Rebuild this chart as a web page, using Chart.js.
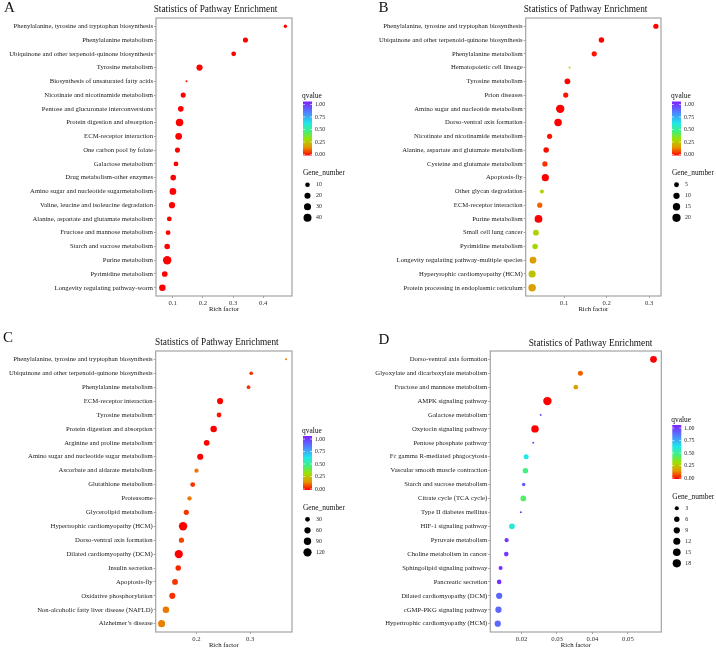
<!DOCTYPE html>
<html>
<head>
<meta charset="utf-8">
<script src="https://cdn.jsdelivr.net/npm/chart.js@4.4.1/dist/chart.umd.min.js"></script>
<style>
  html, body { margin: 0; padding: 0; background: #fff; }
  #wrap { position: relative; width: 716px; height: 650px; overflow: hidden; background: #fff; }
  canvas { position: absolute; }
</style>
</head>
<body>
<div id="wrap">
  <canvas id="panelA" width="358" height="325" style="left:0;top:0"></canvas>
  <canvas id="panelB" width="358" height="325" style="left:358px;top:0"></canvas>
  <canvas id="panelC" width="358" height="325" style="left:0;top:325px"></canvas>
  <canvas id="panelD" width="358" height="325" style="left:358px;top:325px"></canvas>
</div>
<script>
// ---- data (top row first) ----
const pathwaysA = ['Phenylalanine, tyrosine and tryptophan biosynthesis', 'Phenylalanine metabolism',
  'Ubiquinone and other terpenoid-quinone biosynthesis', 'Tyrosine metabolism', 'Biosynthesis of unsaturated fatty acids',
  'Nicotinate and nicotinamide metabolism', 'Pentose and glucuronate interconversions', 'Protein digestion and absorption',
  'ECM-receptor interaction', 'One carbon pool by folate', 'Galactose metabolism', 'Drug metabolism-other enzymes',
  'Amino sugar and nucleotide sugarmetabolism', 'Valine, leucine and isoleucine degradation',
  'Alanine, aspartate and glutamate metabolism', 'Fructose and mannose metabolism', 'Starch and sucrose metabolism',
  'Purine metabolism', 'Pyrimidine metabolism', 'Longevity regulating pathway-worm'];
const richA = [0.473, 0.341, 0.302, 0.189, 0.146, 0.135, 0.127, 0.123, 0.120, 0.116,
  0.111, 0.102, 0.101, 0.098, 0.089, 0.085, 0.082, 0.082, 0.074, 0.066];
const genesA = [5, 13, 11, 21, 3, 13, 17, 34, 26, 13, 11, 16, 26, 21, 11, 11, 16, 45, 17, 24];
const qvalA = [0, 0, 0, 0, 0.01, 0, 0, 0, 0, 0, 0, 0, 0, 0, 0, 0, 0, 0, 0, 0];
const xTicksA = [0.1, 0.2, 0.3, 0.4];
const sizeBreaksA = [10, 20, 30, 40];

const pathwaysB = ['Phenylalanine, tyrosine and tryptophan biosynthesis', 'Ubiquinone and other terpenoid-quinone biosynthesis',
  'Phenylalanine metabolism', 'Hematopoietic cell lineage', 'Tyrosine metabolism', 'Prion diseases',
  'Amino sugar and nucleotide metabolism', 'Dorso-ventral axis formation', 'Nicotinate and nicotinamide metabolism',
  'Alanine, aspartate and glutamate metabolism', 'Cysteine and glutamate metabolism', 'Apoptosis-fly',
  'Other glycan degradation', 'ECM-receptor interaction', 'Purine metabolism', 'Small cell lung cancer',
  'Pyrimidine metabolism', 'Longevity regulating pathway-multiple species', 'Hyperyrophic cardiomyopathy (HCM)',
  'Protein processing in endoplasmic reticulum'];
const richB = [0.316, 0.188, 0.171, 0.113, 0.108, 0.104, 0.091, 0.086, 0.066, 0.058,
  0.055, 0.056, 0.048, 0.043, 0.040, 0.034, 0.032, 0.027, 0.025, 0.025];
const genesB = [6, 7, 6, 1, 8, 6, 21, 16, 6, 7, 6, 14, 3, 6, 17, 8, 7, 12, 14, 16];
const qvalB = [0, 0, 0.02, 0.3, 0, 0.02, 0, 0, 0.02, 0.01, 0.05, 0, 0.28, 0.1, 0, 0.27, 0.28, 0.17, 0.24, 0.17];
const xTicksB = [0.1, 0.2, 0.3];
const sizeBreaksB = [5, 10, 15, 20];

const pathwaysC = ['Phenylalanine, tyrosine and tryptophan biosynthesis', 'Ubiquinone and other terpenoid-quinone biosynthesis',
  'Phenylalanine metabolism', 'ECM-receptor interaction', 'Tyrosine metabolism', 'Protein digestion and absorption',
  'Arginine and proline metabolism', 'Amino sugar and nucleotide sugar metabolism', 'Ascorbate and aldarate metabolism',
  'Glutathione metabolism', 'Proteasome', 'Glycerolipid metabolism', 'Hypertrophic cardiomyopathy (HCM)',
  'Dorso-ventral axis formation', 'Dilated cardiomyopathy (DCM)', 'Insulin secretion', 'Apoptosis-fly',
  'Oxidative phosphorylation', 'Non-alcoholic fatty liver disease (NAFLD)', 'Alzheimer\u2019s disease'];
const richC = [0.367, 0.302, 0.297, 0.244, 0.242, 0.232, 0.219, 0.207, 0.200, 0.193,
  0.187, 0.181, 0.175, 0.172, 0.167, 0.166, 0.160, 0.155, 0.143, 0.135];
const genesC = [8, 16, 16, 57, 31, 66, 48, 57, 23, 31, 23, 37, 125, 37, 120, 44, 48, 57, 66, 82];
const qvalC = [0.12, 0.05, 0.05, 0, 0.02, 0, 0, 0, 0.12, 0.05, 0.12, 0.05, 0, 0.07, 0, 0.04, 0.05, 0.05, 0.12, 0.13];
const xTicksC = [0.2, 0.3];
const sizeBreaksC = [30, 60, 90, 120];

const pathwaysD = ['Dorso-ventral axis formation', 'Glyoxylate and dicarboxylate metabolism', 'Fructose and mannose metabolism',
  'AMPK signaling pathway', 'Galactose metabolism', 'Oxytocin signaling pathway', 'Pentose phosphate pathway',
  'Fc gamma R-mediated phagocytosis', 'Vascular smooth muscle contraction', 'Starch and sucrose metabolism',
  'Citrate cycle (TCA cycle)', 'Type II diabetes mellitus', 'HIF-1 signaling pathway', 'Pyruvate metabolism',
  'Choline metabolism in cancer', 'Sphingolipid signaling pathway', 'Pancreatic secretion',
  'Dilated cardiomyopathy (DCM)', 'cGMP-PKG signaling pathway', 'Hypertrophic cardiomyopathy (HCM)'];
const richD = [0.0572, 0.0366, 0.0353, 0.0273, 0.0254, 0.0238, 0.0233, 0.0213, 0.0211, 0.0206,
  0.0205, 0.0198, 0.0173, 0.0158, 0.0157, 0.0141, 0.0137, 0.0137, 0.0135, 0.0133];
const genesD = [11, 5, 4, 19, 1, 14, 1, 5, 6, 2, 7, 1, 7, 3, 4, 3, 4, 9, 9, 9];
const qvalD = [0, 0.1, 0.17, 0, 0.88, 0, 0.9, 0.6, 0.45, 0.88, 0.42, 0.95, 0.58, 0.95, 0.95, 0.97, 0.97, 0.85, 0.85, 0.85];
const xTicksD = [0.02, 0.03, 0.04, 0.05];
const sizeBreaksD = [3, 6, 9, 12, 15, 18];

const qTicks = [0, 0.25, 0.5, 0.75, 1];

// ---- styling ----
const SERIF = '"Liberation Serif", "Times New Roman", serif';
Chart.defaults.font.family = SERIF;

// rainbow-ish qvalue gradient, red (0) -> purple (1)
const qStops = [[0, '#ff0000'], [0.15, '#e69500'], [0.3, '#a0e000'], [0.45, '#40f080'],
  [0.6, '#20e8e8'], [0.8, '#5080ff'], [1, '#8020ff']];

function hexRgb(h) {
  return [parseInt(h.slice(1, 3), 16), parseInt(h.slice(3, 5), 16), parseInt(h.slice(5, 7), 16)];
}

function qColor(q) {
  for (let i = 1; i < qStops.length; i++) {
    if (q <= qStops[i][0]) {
      const [s0, c0] = qStops[i - 1], [s1, c1] = qStops[i];
      const t = (q - s0) / (s1 - s0);
      const a = hexRgb(c0), b = hexRgb(c1);
      return `rgb(${a.map((v, k) => Math.round(v + (b[k] - v) * t)).join(',')})`;
    }
  }
  return qStops[qStops.length - 1][1];
}

// panel title, letter, border box and the two legends
const decoPlugin = {
  id: 'deco',
  afterDraw(chart, args, o) {
    const { ctx, chartArea: a } = chart;
    ctx.save();
    ctx.strokeStyle = '#a3a3a3';
    ctx.lineWidth = 1.2;
    ctx.strokeRect(a.left, a.top, a.right - a.left, a.bottom - a.top);

    ctx.fillStyle = '#111';
    ctx.textAlign = 'left';
    ctx.textBaseline = 'middle';
    ctx.font = '9.3px ' + SERIF;
    ctx.fillText('Statistics of Pathway Enrichment', o.titleX, o.titleY);
    ctx.font = '15px ' + SERIF;
    ctx.fillText(o.letter, o.letterX, o.letterY);

    // legends, stacked and centred on the panel
    const L = a.right + 11;
    const h = 96 + 11 * (o.breaks.length - 1);
    const T = (a.top + a.bottom) / 2 - h / 2;
    ctx.font = '7.4px ' + SERIF;
    ctx.fillStyle = '#111';
    ctx.fillText('qvalue', L - 1, T + 3.7);

    const barTop = T + 9, barH = 54;
    const grad = ctx.createLinearGradient(0, barTop + barH, 0, barTop);
    qStops.forEach(([s, c]) => grad.addColorStop(s, c));
    ctx.fillStyle = grad;
    ctx.fillRect(L, barTop, 9, barH);

    ctx.font = '5.8px ' + SERIF;
    qTicks.forEach(q => {
      const y = barTop + barH - 1 - q * (barH - 4);
      ctx.strokeStyle = '#fff';
      ctx.lineWidth = 0.6;
      ctx.beginPath();
      ctx.moveTo(L, y); ctx.lineTo(L + 2, y);
      ctx.moveTo(L + 7, y); ctx.lineTo(L + 9, y);
      ctx.stroke();
      ctx.fillStyle = '#222';
      ctx.fillText(q.toFixed(2), L + 12, y);
    });

    ctx.font = '7.4px ' + SERIF;
    ctx.fillStyle = '#111';
    ctx.fillText('Gene_number', L, T + 81);
    ctx.font = '5.8px ' + SERIF;
    o.breaks.forEach((b, i) => {
      const y = T + 92.3 + 11 * i;
      ctx.fillStyle = '#000';
      ctx.beginPath();
      ctx.arc(L + 4.5, y, o.size(b), 0, Math.PI * 2);
      ctx.fill();
      ctx.fillStyle = '#222';
      ctx.fillText(String(b), L + 13, y);
    });
    ctx.restore();
  }
};

function makePanel(id, names, rich, genes, qvals, xTicks, breaks, p) {
  const canvas = document.getElementById(id);
  const W = canvas.width, H = canvas.height;
  const gMin = Math.min(...genes), gMax = Math.max(...genes);
  // area-style size scale like ggplot's scale_size
  const size = v => 1.0 + 3.2 * Math.sqrt(Math.max(0, v - gMin) / (gMax - gMin));
  const tickFont = { size: 6.7, family: SERIF };

  new Chart(canvas, {
    type: 'scatter',
    data: {
      datasets: [{
        data: rich.map((x, i) => ({ x, y: i })),
        pointRadius: c => size(genes[c.dataIndex]),
        pointHoverRadius: c => size(genes[c.dataIndex]),
        pointBackgroundColor: c => qColor(qvals[c.dataIndex]),
        pointBorderWidth: 0,
        clip: false
      }]
    },
    options: {
      responsive: false,
      animation: false,
      devicePixelRatio: 1,
      events: [],
      layout: { padding: { left: 0, top: p.top, right: W - p.right, bottom: 0 } },
      plugins: {
        legend: { display: false },
        tooltip: { enabled: false },
        deco: { letter: p.letter, letterX: p.letterX, letterY: p.letterY,
          titleX: p.titleX, titleY: p.titleY, breaks, size }
      },
      scales: {
        x: {
          type: 'linear',
          min: p.xMin,
          max: p.xMax,
          afterFit: s => { s.height = H - p.bottom; },
          afterBuildTicks: s => { s.ticks = xTicks.map(v => ({ value: v })); },
          ticks: { callback: v => String(v), font: tickFont, color: '#333', padding: 1, maxRotation: 0, autoSkip: false },
          grid: { drawOnChartArea: false, tickLength: 2, color: '#a3a3a3' },
          border: { display: false },
          title: { display: true, text: 'Rich factor', font: tickFont, color: '#111',
            padding: { top: 0, bottom: p.xTitlePad } }
        },
        y: {
          type: 'linear',
          reverse: true,
          min: -0.6,
          max: names.length - 0.4,
          afterFit: s => { s.width = p.left; },
          afterBuildTicks: s => { s.ticks = names.map((_, i) => ({ value: i })); },
          ticks: { callback: v => names[v], font: tickFont, color: '#222', padding: 1, autoSkip: false },
          grid: { drawOnChartArea: false, tickLength: 2, color: '#a3a3a3' },
          border: { display: false }
        }
      }
    },
    plugins: [decoPlugin]
  });
}

makePanel('panelA', pathwaysA, richA, genesA, qvalA, xTicksA, sizeBreaksA,
  { left: 156, top: 18, right: 292, bottom: 296, xMin: 0.045, xMax: 0.495, xTitlePad: 11.3,
    letter: 'A', letterX: 4, letterY: 8.5, titleX: 153.7, titleY: 10 });
makePanel('panelB', pathwaysB, richB, genesB, qvalB, xTicksB, sizeBreaksB,
  { left: 167.7, top: 18, right: 303, bottom: 296, xMin: 0.0099, xMax: 0.328, xTitlePad: 11.3,
    letter: 'B', letterX: 20.5, letterY: 8.5, titleX: 165.7, titleY: 10 });
makePanel('panelC', pathwaysC, richC, genesC, qvalC, xTicksC, sizeBreaksC,
  { left: 155.7, top: 26, right: 292, bottom: 307, xMin: 0.124, xMax: 0.378, xTitlePad: 0.3,
    letter: 'C', letterX: 3, letterY: 13.5, titleX: 155, titleY: 18 });
makePanel('panelD', pathwaysD, richD, genesD, qvalD, xTicksD, sizeBreaksD,
  { left: 132.3, top: 26, right: 303.3, bottom: 307, xMin: 0.0112, xMax: 0.0594, xTitlePad: 0.3,
    letter: 'D', letterX: 20.5, letterY: 15, titleX: 170.7, titleY: 18.3 });
</script>
</body>
</html>
